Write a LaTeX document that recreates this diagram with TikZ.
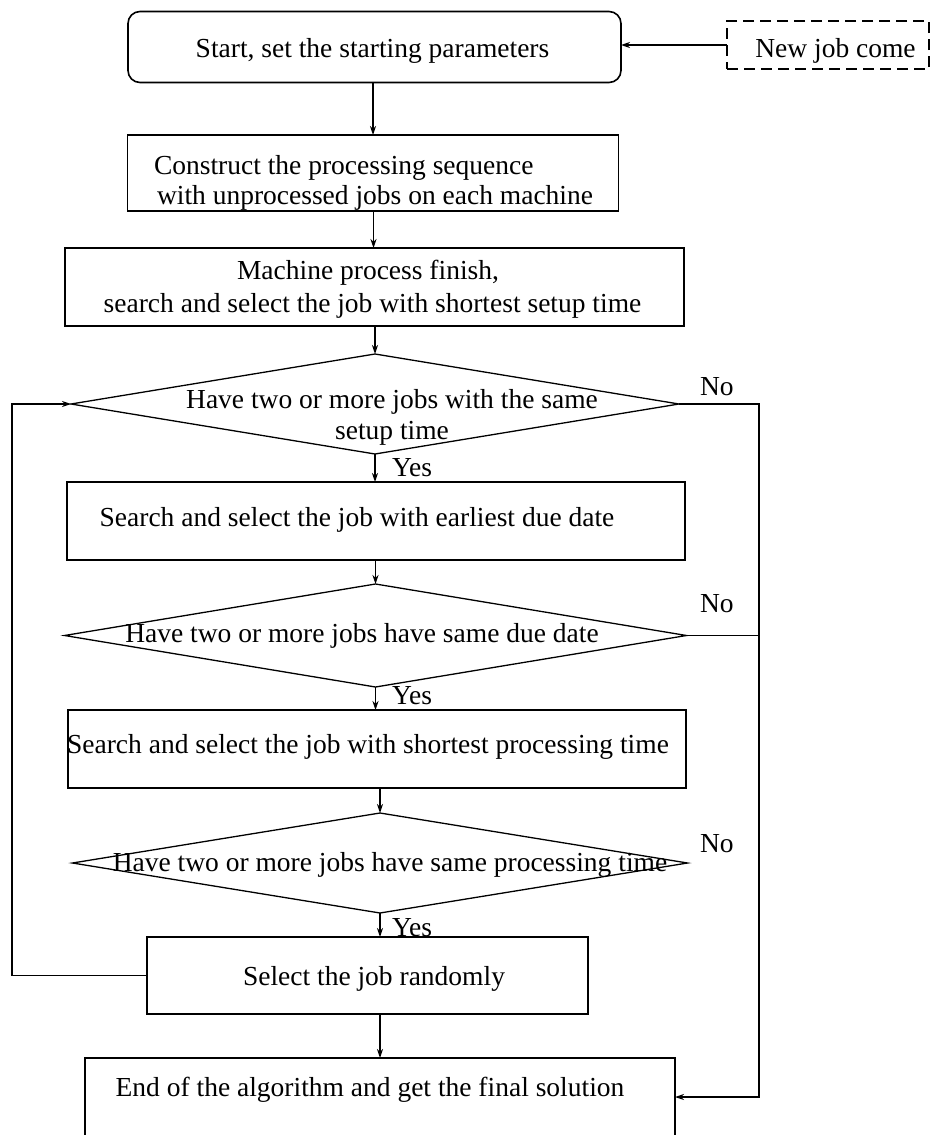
\documentclass[tikz,border=0pt]{standalone}
\usepackage{fontspec}
\setmainfont{Liberation Serif}
\usetikzlibrary{shapes.geometric,arrows.meta}
\begin{document}
\begin{tikzpicture}[x=1pt,y=-1pt,
  font=\fontsize{27.5}{31}\selectfont,
  box/.style={draw,line width=1.6pt,rectangle,inner sep=0pt,outer sep=0pt},
  dia/.style={draw,line width=1.3pt,diamond,inner sep=0pt,outer sep=0pt},
  txt/.style={inner sep=0pt,outer sep=0pt,anchor=base},
  txtl/.style={inner sep=0pt,outer sep=0pt,anchor=base west},
  arr/.style={line width=1.2pt,-{Stealth[length=9pt,width=6pt]}},
  conn/.style={line width=1.2pt}]
\useasboundingbox (0,0) rectangle (931,1135);

% shapes
\node[box,rounded corners=12pt,minimum width=493pt,minimum height=71pt] (start) at (374.5,47) {};
\node[box,dash pattern=on 11pt off 6pt,line width=2pt,minimum width=202pt,minimum height=48pt] (newjob) at (828,45) {};
\node[box,minimum width=491pt,minimum height=76pt] (construct) at (373,173) {};
\node[box,minimum width=619pt,minimum height=78pt] (machine) at (374.5,287) {};
\node[dia,minimum width=608pt,minimum height=100pt] (d1) at (375,404) {};
\node[box,minimum width=618pt,minimum height=78pt] (earliest) at (376,521) {};
\node[dia,minimum width=622pt,minimum height=103pt] (d2) at (375.5,635.5) {};
\node[box,minimum width=618pt,minimum height=78pt] (spt) at (377,749) {};
\node[dia,minimum width=615pt,minimum height=100pt] (d3) at (380,863) {};
\node[box,minimum width=441pt,minimum height=77pt] (select) at (367.5,975.5) {};
\node[box,minimum width=590pt,minimum height=100pt] (end) at (380,1108) {};

% texts
\node[txt] (tstart) at (372.5,57) {Start, set the starting parameters};
\node[txt] (tnew) at (835.5,57) {New job come};
\node[txtl] (tc1) at (154,174) {Construct the processing sequence};
\node[txtl] (tc2) at (157,204) {with unprocessed jobs on each machine};
\node[txt] (tm1) at (368,279) {Machine process finish,};
\node[txt] (tm2) at (372.5,312) {search and select the job with shortest setup time};
\node[txt] (td1a) at (392,408) {Have two or more jobs with the same};
\node[txt] (td1b) at (392,439) {setup time};
\node[txt] (tear) at (357,526) {Search and select the job with earliest due date};
\node[txt] (td2) at (362,642) {Have two or more jobs have same due date};
\node[txt] (tspt) at (368,753) {Search and select the job with shortest processing time};
\node[txt] (td3) at (390,871) {Have two or more jobs have same processing time};
\node[txt] (tsel) at (374,985) {Select the job randomly};
\node[txt] (tend) at (370,1096) {End of the algorithm and get the final solution};

% labels
\node[txtl] (no1) at (700,395) {No};
\node[txtl] (no2) at (700,612) {No};
\node[txtl] (no3) at (700,852) {No};
\node[txtl] (yes1) at (392,476) {Yes};
\node[txtl] (yes2) at (392,704) {Yes};
\node[txtl] (yes3) at (392,936) {Yes};

% coordinates
\coordinate (noR) at (759,404);
\coordinate (noE) at (759,1097);
\coordinate (loopB) at (12,975.5);
\coordinate (loopT) at (12,404);

% connectors
\draw[arr] (newjob.west) -- (newjob.west -| start.east);
\draw[arr] (373,82.5) coordinate (a1) (start.south -| a1) -- (construct.north -| a1);
\draw[arr] (construct.south -| 373.5,0) -- (machine.north -| 373.5,0);
\draw[arr] (machine.south -| d1.north) -- (d1.north);
\draw[arr] (d1.south) -- (d1.south |- earliest.north);
\draw[arr] (earliest.south -| d2.north) -- (d2.north);
\draw[arr] (d2.south) -- (d2.south |- spt.north);
\draw[arr] (spt.south -| d3.north) -- (d3.north);
\draw[arr] (d3.south) -- (d3.south |- select.north);
\draw[arr] (select.south -| 380,0) -- (end.north -| 380,0);
\draw[arr] (d1.east) -- (noR) -- (noE) -- (end.east |- noE);
\draw[conn] (d2.east) -- (d2.east -| noR);
\draw[arr] (select.west) -- (loopB) -- (loopT) -- (d1.west);
\end{tikzpicture}
\end{document}
